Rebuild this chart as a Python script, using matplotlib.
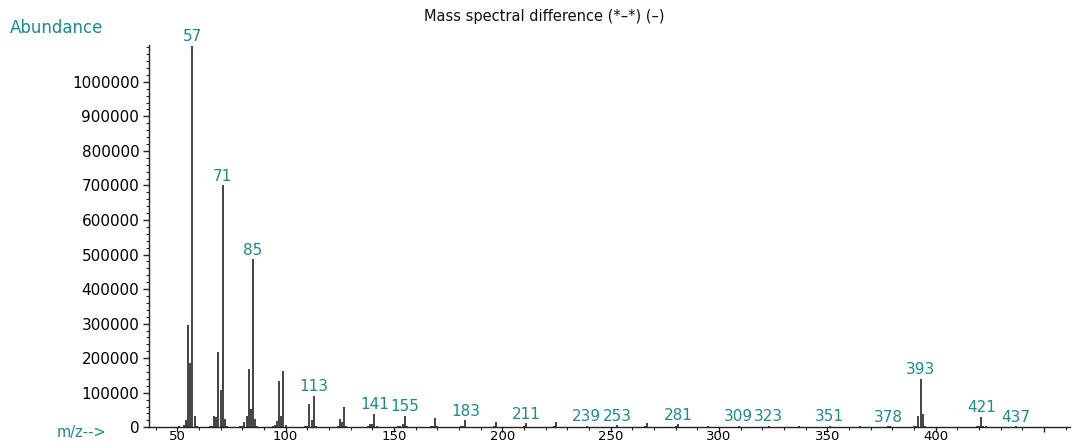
import matplotlib
matplotlib.use("Agg")
import matplotlib.pyplot as plt
from matplotlib.ticker import MultipleLocator, FixedLocator, FixedFormatter

# m/z values and abundances of the difference spectrum
mz = [45, 48, 51, 53, 54, 55, 56, 57, 58, 59, 62, 65, 66, 67, 68, 69, 70, 71, 72, 73,
      76, 79, 80, 81, 82, 83, 84, 85, 86, 87, 90, 93, 94, 95, 96, 97, 98, 99, 100, 101,
      105, 108, 109, 110, 111, 112, 113, 114, 118, 121, 123, 124, 125, 126, 127, 128,
      132, 135, 137, 138, 139, 140, 141, 142, 146, 149, 151, 152, 153, 154, 155, 156,
      160, 163, 166, 167, 168, 169, 170, 174, 177, 180, 181, 182, 183, 184, 188, 191,
      195, 196, 197, 198, 202, 205, 209, 210, 211, 212, 216, 219, 223, 224, 225, 226,
      230, 233, 237, 238, 239, 240, 244, 247, 251, 252, 253, 254, 258, 261, 265, 266,
      267, 268, 272, 275, 279, 280, 281, 282, 286, 289, 293, 294, 295, 296, 300, 303,
      307, 308, 309, 310, 314, 317, 321, 322, 323, 324, 328, 331, 335, 336, 337, 338,
      342, 345, 349, 350, 351, 352, 356, 359, 363, 364, 365, 366, 370, 373, 377, 378,
      379, 383, 386, 389, 390, 391, 392, 393, 394, 395, 396, 400, 403, 406, 409, 412,
      415, 418, 419, 420, 421, 422, 423, 427, 430, 434, 436, 437, 438, 442, 446, 450,
      455, 459]
abundance = [1200, 1500, 2500, 5800, 20000, 297000, 187000, 1105000, 33000, 3000, 1500,
             3000, 2500, 32900, 28800, 217500, 108700, 700000, 25000, 3000,
             1500, 3500, 2500, 15600, 33700, 169300, 51900, 486500, 23000, 3000, 1500, 2000,
             3000, 5800, 17300, 134700, 32900, 162700, 7800, 2000,
             1500, 2000, 3000, 4500, 67500, 20200, 91400, 4000, 1500, 2000, 2000, 3500,
             25000, 14400, 59700, 3000,
             1500, 2000, 2000, 3000, 8700, 8700, 39500, 2500, 1500, 2000, 1500, 2500, 3000,
             9800, 33700, 2500,
             1500, 2000, 1500, 2500, 4000, 26000, 2500, 1500, 2000, 1500, 2500, 4000, 21300,
             2000, 1500, 2000,
             1500, 3000, 16400, 2000, 1500, 2000, 1500, 2500, 11500, 1800, 1500, 2000, 1500,
             3000, 15600, 1800,
             1500, 2000, 1500, 2000, 4500, 1500, 1500, 2000, 1500, 2000, 6000, 1500, 1500,
             2000, 1500, 2500,
             11500, 1500, 1500, 2000, 1500, 2500, 8700, 1500, 1500, 2000, 1500, 2000, 5000,
             1500, 1500, 2000,
             1500, 2000, 4000, 1500, 1500, 2000, 1500, 2000, 5000, 1500, 1500, 2000, 1500,
             2000, 4000, 1500,
             1500, 2000, 1500, 2000, 4000, 1500, 1500, 2000, 1500, 2000, 3000, 1500, 1500,
             2000, 1500, 3000,
             2500, 1500, 2000, 1500, 2500, 3000, 31700, 140400, 37500, 5000, 1500, 1500,
             2000, 1500, 2000, 1500,
             1500, 2000, 2500, 3000, 30900, 5000, 2500, 1500, 2000, 1500, 2000, 3000, 1500,
             1500, 1500, 1500,
             1200, 1000]

# peaks that carry an m/z annotation
label_mz = [57, 71, 85, 113, 141, 155, 183, 211, 239, 253, 281, 309, 323, 351, 378,
            393, 421, 437]

y_ticks = [0, 100000, 200000, 300000, 400000, 500000, 600000, 700000, 800000,
           900000, 1000000]
x_ticks = [50, 100, 150, 200, 250, 300, 350, 400, 450]
x_tick_labels = ["50", "100", "150", "200", "250", "300", "350", "400", ""]

TEAL = "#178c8c"
plt.rcParams["font.family"] = ["DejaVu Sans"]

fig = plt.figure(figsize=(10.76, 4.46), dpi=100)
ax = fig.add_axes([0.1385, 0.0420, 0.856, 0.8575])

ax.vlines(mz, 0, abundance, colors="#111111", linewidth=1.1)

ax.set_xlim(37, 462)
ax.set_ylim(0, 1107000)

for spine in ("top", "right"):
    ax.spines[spine].set_visible(False)
for spine in ("left", "bottom"):
    ax.spines[spine].set_color("#222222")
    ax.spines[spine].set_linewidth(1.0)

ax.yaxis.set_major_locator(FixedLocator(y_ticks))
ax.yaxis.set_major_formatter(FixedFormatter([str(v) for v in y_ticks]))
ax.yaxis.set_minor_locator(MultipleLocator(20000))
ax.xaxis.set_major_locator(FixedLocator(x_ticks))
ax.xaxis.set_major_formatter(FixedFormatter(x_tick_labels))
ax.xaxis.set_minor_locator(MultipleLocator(10))

ax.tick_params(axis="y", which="major", length=4, width=1, labelsize=11, pad=3,
               color="#222222")
ax.tick_params(axis="y", which="minor", length=2.5, width=0.8, color="#222222")
ax.tick_params(axis="x", which="major", length=3.5, width=1, labelsize=9.5, pad=-1.5,
               color="#222222")
ax.tick_params(axis="x", which="minor", length=2, width=0.8, color="#222222")

# m/z annotations just above each labelled peak; later labels sit on a white box
lookup = dict(zip(mz, abundance))
for i, m in enumerate(label_mz):
    bbox = None
    if i > 0 and m - label_mz[i - 1] <= 14:
        bbox = dict(boxstyle="square,pad=0.05", facecolor="white", edgecolor="none")
    ax.annotate(str(m), xy=(m, lookup[m]), xytext=(0, 1.0), textcoords="offset points",
                ha="center", va="bottom", fontsize=11, color=TEAL, bbox=bbox,
                annotation_clip=False, zorder=3 + i)

fig.text(0.506, 0.964, "Mass spectral difference (*\u2013*) (\u2013)", ha="center",
         va="center", fontsize=10.5, color="#111111")
fig.text(0.009, 0.937, "Abundance", ha="left", va="center", fontsize=12, color=TEAL)
fig.text(0.053, 0.030, "m/z-->", ha="left", va="center", fontsize=10.5, color=TEAL)

fig.savefig("out.png", dpi=100)
